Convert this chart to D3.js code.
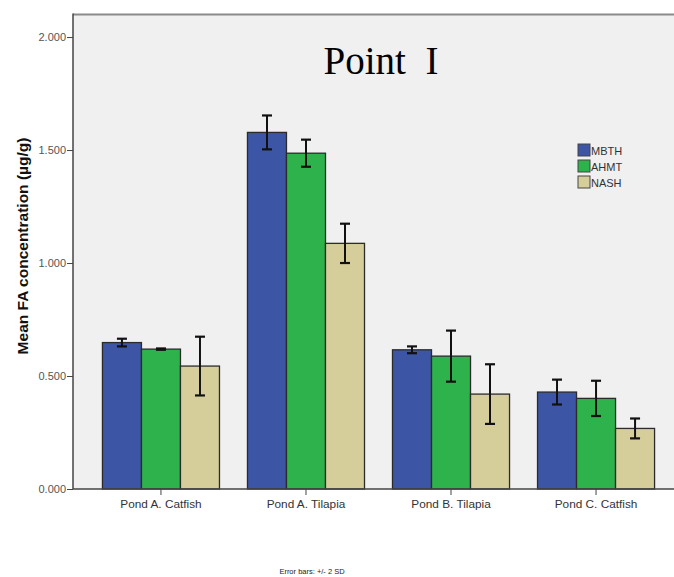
<!DOCTYPE html>
<html>
<head>
<meta charset="utf-8">
<script src="https://cdn.jsdelivr.net/npm/d3@7.9.0/dist/d3.min.js"></script>
<style>
  body { margin: 0; background: #fff; }
  svg { display: block; font-family: Arial, "Liberation Sans", sans-serif; }
</style>
</head>
<body>
<svg id="chart" width="674" height="577"></svg>
<script>
const categories = ['Pond A. Catfish', 'Pond A. Tilapia', 'Pond B. Tilapia', 'Pond C. Catfish'];
const methods = ['MBTH', 'AHMT', 'NASH'];
const means = {
  MBTH: [0.648, 1.578, 0.616, 0.429],
  AHMT: [0.619, 1.486, 0.588, 0.401],
  NASH: [0.544, 1.087, 0.420, 0.268]
};
// +/- 2 SD
const errs = {
  MBTH: [0.017, 0.075, 0.015, 0.055],
  AHMT: [0.003, 0.060, 0.113, 0.078],
  NASH: [0.130, 0.087, 0.132, 0.044]
};
const yTicks = [0, 0.5, 1.0, 1.5, 2.0];
const colors = { MBTH: '#3c55a5', AHMT: '#2eb24b', NASH: '#d5ce9a' };

const svg = d3.select('#chart');
const plotLeft = 73, plotTop = 14, plotRight = 684, plotBottom = 489;

svg.append('rect')
  .attr('x', plotLeft).attr('y', plotTop)
  .attr('width', plotRight - plotLeft).attr('height', plotBottom - plotTop)
  .attr('fill', '#f0f0f0');

const y = d3.scaleLinear().domain([0, 2.102]).range([plotBottom, plotTop]);
const x = d3.scaleBand().domain(categories).range([plotLeft, plotRight])
  .paddingInner(0.193).paddingOuter(0.203);
const xm = d3.scaleBand().domain(methods).range([0, x.bandwidth()]);

// top frame line
svg.append('line')
  .attr('x1', plotLeft).attr('x2', 674).attr('y1', plotTop + 0.5).attr('y2', plotTop + 0.5)
  .attr('stroke', '#8a8a8a').attr('stroke-width', 2);

// bars
const rows = [];
categories.forEach((c, i) => methods.forEach(m => rows.push({ c, m, v: means[m][i], e: errs[m][i] })));

const g = svg.append('g');
g.selectAll('rect.bar')
  .data(rows)
  .join('rect')
  .attr('class', 'bar')
  .attr('x', d => x(d.c) + xm(d.m))
  .attr('y', d => y(d.v))
  .attr('width', xm.bandwidth())
  .attr('height', d => y(0) - y(d.v))
  .attr('fill', d => colors[d.m])
  .attr('stroke', '#2b2b2b')
  .attr('stroke-width', 1.3);

// error bars
const eb = g.selectAll('g.err').data(rows).join('g').attr('class', 'err')
  .attr('transform', d => `translate(${x(d.c) + xm(d.m) + xm.bandwidth() / 2},0)`);
eb.append('line')
  .attr('y1', d => y(d.v + d.e)).attr('y2', d => y(d.v - d.e))
  .attr('stroke', '#111').attr('stroke-width', 2);
eb.selectAll('line.cap').data(d => [d.v + d.e, d.v - d.e]).join('line')
  .attr('class', 'cap')
  .attr('x1', -5).attr('x2', 5)
  .attr('y1', d => y(d)).attr('y2', d => y(d))
  .attr('stroke', '#111').attr('stroke-width', 2.2);

// y axis
const yAxis = svg.append('g')
  .attr('transform', `translate(${plotLeft},0)`)
  .call(d3.axisLeft(y).tickValues(yTicks).tickFormat(d3.format('.3f')).tickSize(6).tickSizeOuter(0));
yAxis.select('.domain').remove();
svg.append('line')
  .attr('x1', plotLeft).attr('x2', plotLeft).attr('y1', plotTop - 0.5).attr('y2', plotBottom)
  .attr('stroke', '#444').attr('stroke-width', 1.5);
yAxis.selectAll('.tick line').attr('stroke', '#444');
yAxis.selectAll('.tick text').attr('font-size', 11).attr('fill', '#555').attr('x', -7);

// x axis
const xAxis = svg.append('g')
  .attr('transform', `translate(0,${plotBottom})`)
  .call(d3.axisBottom(x).tickSize(6).tickSizeOuter(0));
xAxis.select('.domain').remove();
svg.append('line')
  .attr('x1', plotLeft).attr('x2', 674).attr('y1', plotBottom).attr('y2', plotBottom)
  .attr('stroke', '#444').attr('stroke-width', 1.5);
xAxis.selectAll('.tick line').attr('stroke', '#444');
xAxis.selectAll('.tick text').attr('font-size', 11.8).attr('fill', '#333').attr('y', 11);

// axis title
svg.append('text')
  .attr('transform', 'translate(28,246) rotate(-90)')
  .attr('text-anchor', 'middle')
  .attr('font-size', 15.5).attr('font-weight', 'bold').attr('fill', '#111')
  .text('Mean FA concentration (µg/g)');

// chart title
svg.append('text')
  .attr('x', 381).attr('y', 74)
  .attr('text-anchor', 'middle')
  .attr('font-family', '"Liberation Serif", "Times New Roman", serif')
  .attr('font-size', 39).attr('fill', '#000')
  .style('white-space', 'pre')
  .text('Point  I');

// legend
const lg = svg.append('g').attr('transform', 'translate(578,144)');
const li = lg.selectAll('g').data(methods).join('g')
  .attr('transform', (d, i) => `translate(0,${i * 16})`);
li.append('rect').attr('width', 12).attr('height', 12)
  .attr('fill', d => colors[d]).attr('stroke', '#444').attr('stroke-width', 1);
li.append('text').attr('x', 13).attr('y', 10.5)
  .attr('font-size', 11).attr('fill', '#333').text(d => d);

// footnote
svg.append('text')
  .attr('x', 312).attr('y', 574)
  .attr('text-anchor', 'middle')
  .attr('font-size', 7.5).attr('fill', '#222')
  .text('Error bars: +/- 2 SD');
</script>
</body>
</html>
